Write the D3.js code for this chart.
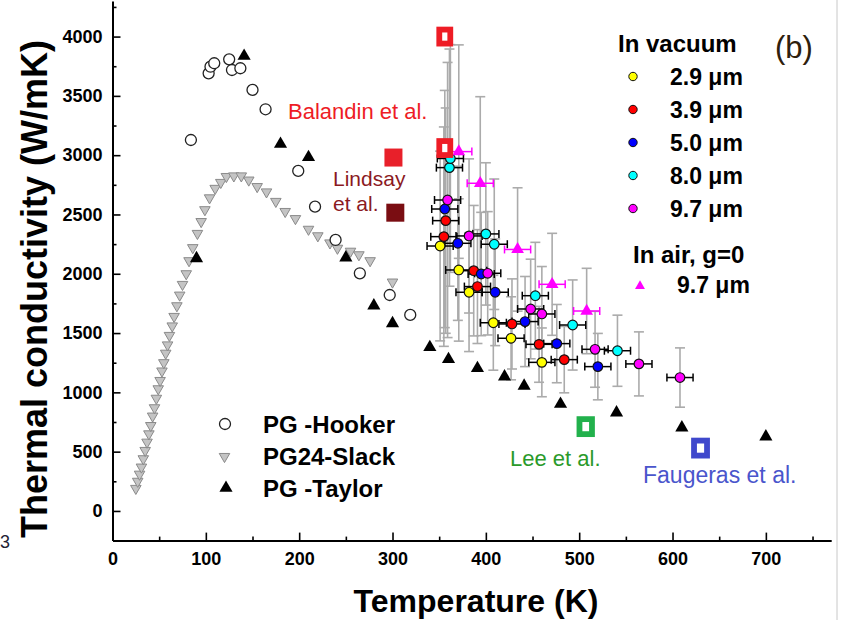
<!DOCTYPE html>
<html>
<head>
<meta charset="utf-8">
<script src="https://cdn.jsdelivr.net/npm/d3@7"></script>
<style>
  body { margin: 0; background: #fff; }
  svg { display: block; font-family: "Liberation Sans", Arial, sans-serif; }
</style>
</head>
<body>
<script>
const width = 843, height = 620;

// tick values
const xTicks = [0, 100, 200, 300, 400, 500, 600, 700];
const xMinor = [50, 150, 250, 350, 450, 550, 650, 750];
const yTicks = [0, 500, 1000, 1500, 2000, 2500, 3000, 3500, 4000];
const yMinor = [250, 750, 1250, 1750, 2250, 2750, 3250, 3750, 4250];

// pyrolytic graphite references [T, K]
const hooker = [[84,3128],[103,3690],[105,3746],[109,3775],[125,3808],[128,3718],[137,3733],
  [150,3550],[164,3387],[199,2867],[217,2566],[239,2285],[265,2004],[297,1821],[319,1653]];
const slack = [[25,190],[27,250],[29,310],[31,370],[33,440],[35,510],[37,580],[39,650],[41,720],
  [43,800],[45,870],[47,950],[49,1030],[51,1100],[53,1180],[55,1250],[57,1330],[59,1400],[61,1480],
  [64,1560],[66,1640],[69,1730],[72,1820],[75,1910],[79,2000],[82,2110],[86,2220],[91,2340],
  [95,2440],[99,2540],[104,2640],[110,2720],[116,2770],[122,2820],[130,2825],[138,2825],[146,2790],
  [155,2735],[165,2690],[175,2610],[185,2525],[196,2465],[210,2375],[220,2320],[233,2260],
  [241,2215],[255,2190],[264,2160],[276,2110],[300,1930]];
const taylor = [[90,2130],[141,3836],[180,3094],[210,2982],[250,2136],[280,1731],[300,1582],
  [340,1380],[360,1279],[391,1203],[420,1132],[441,1054],[480,902],[540,829],[610,702],[700,627]];

// measured graphene, in vacuum [T, K, dK]
const vac29 = [[351,2234,800],[371,2032,600],[382,1844,500],[408,1587,400],[427,1456,350],[460,1253,290]];
const vac39 = [[355,2313,925],[357,2448,950],[387,2026,550],[391,1892,480],[428,1577,380],[457,1405,320],[484,1276,280]];
const vac50 = [[356,2546,1000],[370,2257,650],[395,1998,520],[410,1844,450],[442,1597,380],[476,1411,330],[520,1217,280]];
const vac80 = [[361,2895,1000],[362,2972,960],[400,2336,600],[409,2249,550],[453,1815,450],[493,1568,380],[541,1351,300]];
const vac97 = [[359,2622,1160],[382,2319,650],[402,2004,520],[448,1703,420],[460,1661,400],[517,1363,320],[564,1240,270],[608,1125,250]];
// in air, g=0
const air97 = [[371,3030,900],[394,2763,730],[434,2205,520],[471,1911,430],[508,1686,360]];
const tErr = 14;

// literature points [T, K]
const balandin = [[356,4000],[356,3060]];
const lindsay = [[301,2980],[303,2515]];
const lee = [[507,711]];
const faugeras = [[630,530]];

const vacSeries = [
  {data: vac29, color: '#ffff00', label: '2.9 \u03bcm'},
  {data: vac39, color: '#ff0000', label: '3.9 \u03bcm'},
  {data: vac50, color: '#0000ff', label: '5.0 \u03bcm'},
  {data: vac80, color: '#00ffff', label: '8.0 \u03bcm'},
  {data: vac97, color: '#ff00ff', label: '9.7 \u03bcm'},
];

const x = d3.scaleLinear().domain([0, 770]).range([112.5, 831.2]);
const y = d3.scaleLinear().domain([-250, 4300]).range([540.6, 1]);

const svg = d3.select('body').append('svg').attr('width', width).attr('height', height);

// frame edge at right
svg.append('line')
  .attr('x1', 837).attr('x2', 837).attr('y1', 0).attr('y2', height)
  .attr('stroke', '#c8c8c8').attr('stroke-width', 1);

// ---- axes
function styleAxis(g){
  g.attr('font-family', '"Liberation Sans", Arial, sans-serif')
    .attr('font-size', 18).attr('font-weight', 'bold');
  g.select('.domain').attr('stroke', '#000').attr('stroke-width', 2);
  g.selectAll('.tick line').attr('stroke', '#000').attr('stroke-width', 1.6);
  g.selectAll('.tick text').attr('fill', '#000');
}

svg.append('g')
  .attr('transform', `translate(0,${y(-250)})`)
  .call(d3.axisBottom(x).tickValues(xMinor).tickSize(-4).tickFormat(''))
  .call(styleAxis)
  .call(g => g.select('.domain').remove());
svg.append('g')
  .attr('transform', `translate(${x(0)},0)`)
  .call(d3.axisLeft(y).tickValues(yMinor).tickSize(-4).tickFormat(''))
  .call(styleAxis)
  .call(g => g.select('.domain').remove());

svg.append('g')
  .attr('transform', `translate(0,${y(-250)})`)
  .call(d3.axisBottom(x).tickValues(xTicks).tickFormat(d3.format('d'))
    .tickSizeInner(-8).tickSizeOuter(0).tickPadding(12))
  .call(styleAxis);
svg.append('g')
  .attr('transform', `translate(${x(0)},0)`)
  .call(d3.axisLeft(y).tickValues(yTicks).tickFormat(d3.format('d'))
    .tickSizeInner(-8).tickSizeOuter(0).tickPadding(10))
  .call(styleAxis);

svg.append('text')
  .attr('transform', 'translate(47,289) rotate(-90)')
  .attr('text-anchor', 'middle')
  .attr('font-size', 36).attr('font-weight', 'bold')
  .text('Thermal conductivity (W/mK)');

svg.append('text')
  .attr('x', 476).attr('y', 612)
  .attr('text-anchor', 'middle')
  .attr('font-size', 32).attr('font-weight', 'bold')
  .text('Temperature (K)');

// glyph from the neighbouring panel
svg.append('text')
  .attr('x', 0).attr('y', 548)
  .attr('font-size', 18).attr('fill', '#223')
  .text('3');

// ---- reference graphite data
const tri = d3.symbol().type(d3.symbolTriangle);

svg.append('g').selectAll('path')
  .data(slack).join('path')
  .attr('d', tri.size(48)())
  .attr('transform', d => `translate(${x(d[0])},${y(d[1])}) rotate(180)`)
  .attr('fill', '#c4c4c4').attr('stroke', '#8a8a8a').attr('stroke-width', 1);

svg.append('g').selectAll('circle')
  .data(hooker).join('circle')
  .attr('cx', d => x(d[0])).attr('cy', d => y(d[1]))
  .attr('r', 5.5)
  .attr('fill', '#fff').attr('stroke', '#222').attr('stroke-width', 1.3);

// ---- error bars
const bars = svg.append('g');
const allSeries = vacSeries.map(s => ({data: s.data, hcol: '#000'}))
  .concat([{data: air97, hcol: '#ff00ff'}]);

allSeries.forEach(s => {
  s.data.forEach(d => {
    const cx = x(d[0]), y1 = y(d[1] - d[2]), y2 = y(d[1] + d[2]);
    bars.append('line').attr('x1', cx).attr('x2', cx).attr('y1', y1).attr('y2', y2);
    bars.append('line').attr('x1', cx - 5).attr('x2', cx + 5).attr('y1', y1).attr('y2', y1);
    bars.append('line').attr('x1', cx - 5).attr('x2', cx + 5).attr('y1', y2).attr('y2', y2);
  });
});
bars.selectAll('line').attr('stroke', '#ababab').attr('stroke-width', 1.6);

const hbars = svg.append('g');
allSeries.forEach(s => {
  s.data.forEach(d => {
    const cy = y(d[1]), x1 = x(d[0] - tErr), x2 = x(d[0] + tErr);
    const g = hbars.append('g').attr('stroke', s.hcol).attr('stroke-width', 1.5);
    g.append('line').attr('x1', x1).attr('x2', x2).attr('y1', cy).attr('y2', cy);
    g.append('line').attr('x1', x1).attr('x2', x1).attr('y1', cy - 4).attr('y2', cy + 4);
    g.append('line').attr('x1', x2).attr('x2', x2).attr('y1', cy - 4).attr('y2', cy + 4);
  });
});

// ---- measured points
vacSeries.forEach(s => {
  svg.append('g').selectAll('circle')
    .data(s.data).join('circle')
    .attr('cx', d => x(d[0])).attr('cy', d => y(d[1]))
    .attr('r', 4.8)
    .attr('fill', s.color).attr('stroke', '#111').attr('stroke-width', 1.2);
});

svg.append('g').selectAll('path')
  .data(air97).join('path')
  .attr('d', tri.size(70)())
  .attr('transform', d => `translate(${x(d[0])},${y(d[1])})`)
  .attr('fill', '#ff00ff');

svg.append('g').selectAll('path')
  .data(taylor).join('path')
  .attr('d', tri.size(75)())
  .attr('transform', d => `translate(${x(d[0])},${y(d[1])})`)
  .attr('fill', '#000');

// ---- literature squares
function openSquares(data, color, w, h){
  svg.append('g').selectAll('rect')
    .data(data).join('rect')
    .attr('x', d => x(d[0]) - w / 2).attr('y', d => y(d[1]) - h / 2)
    .attr('width', w).attr('height', h)
    .attr('fill', '#fff').attr('stroke', color).attr('stroke-width', 5.8);
}
openSquares(balandin, '#ee1c25', 11, 14);
openSquares(lee, '#22b14c', 12.5, 15);
openSquares(faugeras, '#3f48cc', 13, 15);

const lindsayColors = ['#e8202a', '#7a0d12'];
svg.append('g').selectAll('rect')
  .data(lindsay).join('rect')
  .attr('x', d => x(d[0]) - 9).attr('y', d => y(d[1]) - 9)
  .attr('width', 18).attr('height', 18)
  .attr('fill', (d, i) => lindsayColors[i]);

// ---- annotations
svg.append('text').attr('x', 288).attr('y', 119)
  .attr('font-size', 22).attr('fill', '#ee1c25').text('Balandin et al.');
svg.append('text').attr('x', 333).attr('y', 186)
  .attr('font-size', 21).attr('fill', '#8b1a1f').text('Lindsay');
svg.append('text').attr('x', 333).attr('y', 211)
  .attr('font-size', 21).attr('fill', '#8b1a1f').text('et al.');
svg.append('text').attr('x', 510).attr('y', 466)
  .attr('font-size', 22).attr('fill', '#2a9a2a').text('Lee et al.');
svg.append('text').attr('x', 643).attr('y', 483)
  .attr('font-size', 23).attr('fill', '#4a55cc').text('Faugeras et al.');
svg.append('text').attr('x', 775).attr('y', 58)
  .attr('font-size', 31).attr('fill', '#2e200c').text('(b)');

// ---- right legend
const legR = svg.append('g').attr('font-weight', 'bold').attr('fill', '#000');
legR.append('text').attr('x', 618).attr('y', 52).attr('font-size', 24).text('In vacuum');
vacSeries.forEach((s, i) => {
  const cy = 76.5 + i * 33;
  legR.append('circle').attr('cx', 633).attr('cy', cy).attr('r', 4.2)
    .attr('fill', s.color).attr('stroke', '#111').attr('stroke-width', 1);
  legR.append('text').attr('x', 670).attr('y', cy + 8.3).attr('font-size', 23).text(s.label);
});
legR.append('text').attr('x', 633).attr('y', 263).attr('font-size', 24).text('In air, g=0');
legR.append('path').attr('d', tri.size(43)())
  .attr('transform', 'translate(640,286)').attr('fill', '#ff00ff');
legR.append('text').attr('x', 677).attr('y', 293).attr('font-size', 23).text('9.7 \u03bcm');

// ---- left legend
const legL = svg.append('g').attr('font-weight', 'bold').attr('font-size', 24);
legL.append('circle').attr('cx', 225).attr('cy', 424).attr('r', 5.5)
  .attr('fill', '#fff').attr('stroke', '#222').attr('stroke-width', 1.3);
legL.append('text').attr('x', 263).attr('y', 432.5).text('PG -Hooker');
legL.append('path').attr('d', tri.size(48)())
  .attr('transform', 'translate(224.5,456.5) rotate(180)')
  .attr('fill', '#c4c4c4').attr('stroke', '#8a8a8a').attr('stroke-width', 1);
legL.append('text').attr('x', 263).attr('y', 465).text('PG24-Slack');
legL.append('path').attr('d', tri.size(75)())
  .attr('transform', 'translate(226,488)').attr('fill', '#000');
legL.append('text').attr('x', 263).attr('y', 496.5).text('PG -Taylor');
</script>
</body>
</html>
